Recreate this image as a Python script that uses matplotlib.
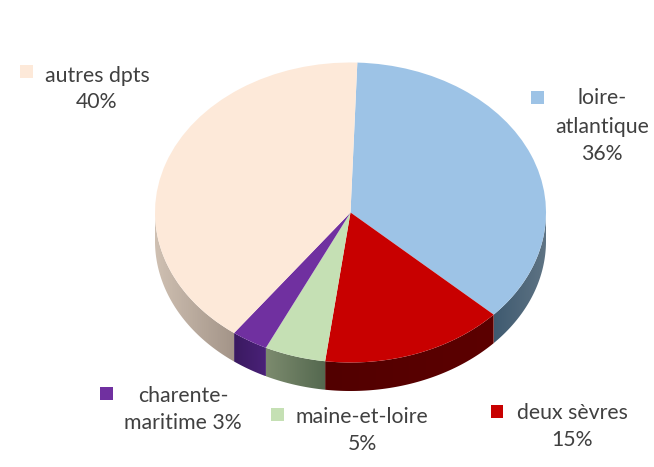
import numpy as np
import matplotlib
matplotlib.use("Agg")
import matplotlib.pyplot as plt
from matplotlib.colors import LinearSegmentedColormap
from matplotlib.patches import Polygon, Rectangle

categories = ["loire-atlantique", "deux sèvres", "maine-et-loire", "charente-maritime", "autres dpts"]
values = [36, 15, 5, 3, 40]
colors = ["#9DC3E6", "#C80000", "#C5E0B4", "#7030A0", "#FDE9D9"]
side_colors = [("#3F5A70", "#5F7484"), ("#520000", "#5C0000"), ("#7C8B6E", "#54684F"),
               ("#3A1A60", "#4A2178"), ("#CFC0B2", "#A39488")]
label_texts = [["loire-", "atlantique", "36%"], ["deux sèvres", "15%"], ["maine-et-loire", "5%"],
               ["charente-", "maritime 3%"], ["autres dpts", "40%"]]
label_xy = [[(602, 98), (602, 127), (602, 154)], [(572, 413), (572, 440)], [(362, 417), (362, 444)],
            [(183, 396), (183, 423)], [(97, 76), (97, 102)]]
marker_xy = [(537, 97), (497, 411), (277, 414), (106, 393), (27, 72)]

W, H = 654, 467
CX, CY, RX, RY, DEPTH = 350.5, 212.5, 195.5, 150, 28.5
plt.rcParams["font.family"] = ["Lato", "DejaVu Sans"]

fig = plt.figure(figsize=(W / 100, H / 100), dpi=100, facecolor="white")
ax = fig.add_axes([0, 0, 1, 1])
wedges, _ = ax.pie(values, colors=colors, startangle=88, counterclock=False, radius=1,
                   wedgeprops={"edgecolor": "none", "zorder": 5})
ax.set_aspect("auto")
ax.axis("off")

d = DEPTH / RY
for w, (c0, c1) in zip(wedges, side_colors):
    t1, t2 = w.theta1 % 360, w.theta2 % 360
    if t2 <= t1:
        t2 += 360
    for lo, hi in ((180, 360), (540, 720)):
        a, b = max(t1, lo), min(t2, hi)
        if b <= a:
            continue
        th = np.radians(np.linspace(a, b, 120))
        x, y = np.cos(th), np.sin(th)
        pts = np.r_[np.c_[x, y], np.c_[x[::-1], y[::-1] - d]]
        poly = Polygon(pts, closed=True, transform=ax.transData, fc="none", ec="none")
        ax.add_patch(poly)
        cmap = LinearSegmentedColormap.from_list("s", [c0, c1])
        im = ax.imshow(np.linspace(0, 1, 128)[None, :], extent=(x.min(), x.max(), (y - d).min(), y.max()),
                       cmap=cmap, aspect="auto", zorder=2)
        im.set_clip_path(poly)
ax.set_xlim(-CX / RX, (W - CX) / RX)
ax.set_ylim((CY - H) / RY, CY / RY)

for lines, pos in zip(label_texts, label_xy):
    for s, (px, py) in zip(lines, pos):
        fig.text(px / W, 1 - py / H, s, ha="center", va="center", fontsize=15.3, color="#404040")

S = 13
for c, (px, py) in zip(colors, marker_xy):
    fig.add_artist(Rectangle(((px - S / 2) / W, 1 - (py + S / 2) / H), S / W, S / H,
                             transform=fig.transFigure, fc=c, ec="none"))

fig.savefig("out.png", dpi=100)
